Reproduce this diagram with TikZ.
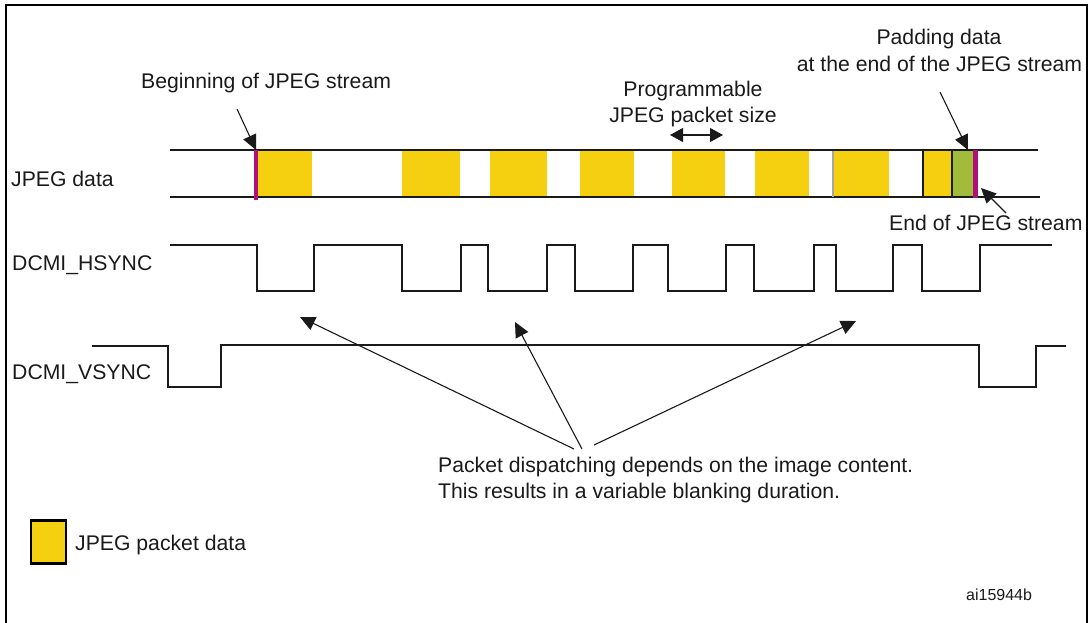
\documentclass[tikz,border=0pt]{standalone}
\usepackage{fontspec}
\setmainfont{Liberation Sans}
\usetikzlibrary{arrows.meta}
\definecolor{MyPkt}{HTML}{F5D010}
\definecolor{MyPad}{HTML}{A0BC3A}
\definecolor{MyMag}{HTML}{B0107A}
\definecolor{MyInk}{HTML}{1A1A1A}
\tikzset{%
  link/.style={-{Triangle[length=15pt,width=14pt]},line width=1.1pt,draw=MyInk},
  both link/.style={{Triangle[length=13pt,width=14pt]}-{Triangle[length=13pt,width=14pt]},line width=1.1pt,draw=MyInk},
  wave/.style={line width=2.4pt,draw=MyInk,line join=miter},
  lane/.style={line width=2.2pt,draw=MyInk},
  pkt/.style={fill=MyPkt,draw=none},
  lbl/.style={anchor=base west,inner sep=0pt,font=\fontsize{21.2}{25}\selectfont,text=MyInk},
  mid lbl/.style={anchor=base,inner sep=0pt,font=\fontsize{21.2}{25}\selectfont,text=MyInk}
}
\begin{document}
\begin{tikzpicture}[x=1pt,y=-1pt]
 \useasboundingbox (0,0) rectangle (1091,623);

 % frame, open at the bottom
 \draw[line width=2pt,black] (6,623) -- (6,5) -- (1087,5) -- (1087,623);

 % packets
 \foreach \xa/\xb in {258/312,402/460,490/547,580/634,672/725,755/809,833/889,923/952}
   \fill[pkt] (\xa,151) rectangle (\xb,197);
 \fill[MyPad] (952,151) rectangle (973,197);

 \draw[lane] (170,150) -- (1038,150);
 \draw[lane] (170,197) -- (1040,197);

 \draw[line width=1.2pt,gray!70] (833,151) -- (833,197);
 \draw[line width=1.6pt,MyInk] (923,150) -- (923,197);
 \draw[line width=1.6pt,MyInk] (952,150) -- (952,197);
 \fill[MyMag] (254,150) rectangle (258,200);
 \fill[MyMag] (973,150) rectangle (978,198);

 % signals
 \draw[wave] (170,245) -| (257,291) -| (314,245) -| (402,291) -| (461,245) -| (488,291)
   -| (547,245) -| (575,291) -| (633,245) -| (668,291) -| (726,245) -| (754,291)
   -| (814,245) -| (836,291) -| (893,245) -| (922,291) -| (980,245) -- (1052,245);
 \draw[wave] (92,346) -| (168,387) -| (221,345) -| (979,387) -| (1036,346) -- (1066,346);

 % labels
 \node[lbl] (data) at (11,186) {JPEG data};
 \node[lbl] (hsync) at (12,270) {DCMI\_HSYNC};
 \node[lbl] (vsync) at (12,379) {DCMI\_VSYNC};
 \node[lbl] (begin) at (141,89) {Beginning of JPEG stream};
 \node[mid lbl] (prog) at (693,97) {Programmable};
 \node[mid lbl] (size) at (693,122) {JPEG packet size};
 \node[mid lbl] (pad) at (939,45) {Padding data};
 \node[mid lbl] (padend) at (939.5,72) {at the end of the JPEG stream};
 \node[lbl] (end) at (889,230) {End of JPEG stream};
 \node[lbl] (disp) at (438,472) {Packet dispatching depends on the image content.};
 \node[lbl] (var) at (438,498) {This results in a variable blanking duration.};
 \node[lbl] (key) at (75,550) {JPEG packet data};
 \node[lbl,font=\fontsize{16}{19}\selectfont] (ref) at (966,600) {ai15944b};

 % legend
 \node[draw=black,line width=2.5pt,fill=MyPkt,minimum width=35pt,minimum height=43pt,inner sep=0pt] (box) at (48.3,542) {};

 % free ends of the arrows
 \coordinate (begintail) at (237,109);
 \coordinate (begintip) at (256,150);
 \coordinate (padtail) at (940,92);
 \coordinate (padtip) at (968,150);
 \coordinate (endtail) at (1006,213);
 \coordinate (endtip) at (981,188);
 \coordinate (sizea) at (670,135);
 \coordinate (sizeb) at (723,135);
 \coordinate (blanka) at (300,317);
 \coordinate (blankb) at (515,322);
 \coordinate (blankc) at (856,321);
 \coordinate (taila) at (574,449);
 \coordinate (tailb) at (582,449);
 \coordinate (tailc) at (594,445);

 \draw[link] (begintail) to (begintip);
 \draw[link] (padtail) to (padtip);
 \draw[link] (endtail) to (endtip);
 \draw[both link] (sizea) to (sizeb);
 \draw[link] (taila) to (blanka);
 \draw[link] (tailb) to (blankb);
 \draw[link] (tailc) to (blankc);

\end{tikzpicture}
\end{document}
